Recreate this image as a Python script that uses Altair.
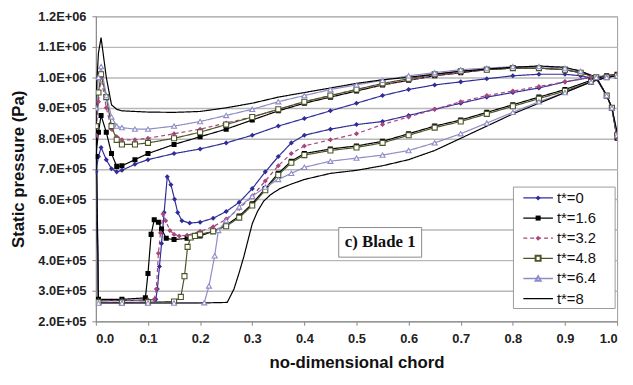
import altair as alt
import pandas as pd

SERIES = ["t*=0", "t*=1.6", "t*=3.2", "t*=4.8", "t*=6.4", "t*=8"]
COLORS = ["#302c98", "#000000", "#a8447e", "#4b5627", "#8e8cc6", "#000000"]
SHAPES = ["diamond", "square", "diamond", "square", "triangle-up", "circle"]
DASHES = [[1, 0], [1, 0], [4, 3], [1, 0], [1, 0], [1, 0]]
FILLED = ["t*=0", "t*=1.6", "t*=3.2"]
HOLLOW = ["t*=4.8", "t*=6.4"]

# pressure side (upper curves), values in 1e5 Pa
UP_X = [0, 0.005, 0.01, 0.02, 0.03, 0.04, 0.05, 0.075, 0.1, 0.15, 0.2, 0.25, 0.3, 0.35, 0.4,
        0.45, 0.5, 0.55, 0.6, 0.65, 0.7, 0.75, 0.8, 0.85, 0.9, 0.93, 0.96, 0.98, 0.99, 1.0]
UP_T0 = [6.9, 7.4, 7.7, 7.3, 7.0, 6.9, 6.95, 7.15, 7.3, 7.5, 7.65, 7.85, 8.1, 8.4, 8.65,
         8.9, 9.15, 9.4, 9.6, 9.75, 9.85, 9.95, 10.05, 10.1, 10.1, 10.05, 9.95, 9.4, 9.0, 8.0]
UP_T16 = [7.4, 8.2, 8.75, 8.2, 7.5, 7.08, 7.1, 7.3, 7.5, 7.8, 8.05, 8.3, 8.6, 8.9, 9.15,
          9.35, 9.55, 9.75, 9.9, 10.05, 10.15, 10.25, 10.3, 10.3, 10.25, 10.15, 10.0, 9.4, 9.0, 8.0]
UP_T32 = [8.1, 9.2, 10.0, 9.0, 8.3, 8.05, 7.95, 7.95, 8.0, 8.15, 8.3, 8.5, 8.7, 8.95, 9.2,
          9.4, 9.6, 9.75, 9.9, 10.05, 10.15, 10.25, 10.3, 10.3, 10.25, 10.15, 10.0, 9.4, 9.0, 8.0]
UP_T48 = [8.4, 9.5, 10.1, 9.35, 8.4, 7.95, 7.8, 7.8, 7.85, 8.0, 8.2, 8.45, 8.7, 8.95, 9.2,
          9.4, 9.6, 9.8, 9.95, 10.1, 10.2, 10.25, 10.3, 10.3, 10.25, 10.15, 10.0, 9.4, 9.0, 8.1]
UP_T64 = [9.0, 10.0, 10.35, 9.4, 8.7, 8.4, 8.35, 8.3, 8.3, 8.4, 8.55, 8.75, 8.95, 9.2, 9.4,
          9.6, 9.75, 9.9, 10.05, 10.15, 10.25, 10.3, 10.35, 10.35, 10.3, 10.2, 10.0, 9.4, 9.0, 8.1]
UP_T8 = [9.3, 10.8, 11.3, 10.0, 9.1, 8.95, 8.9, 8.88, 8.86, 8.85, 8.88, 9.0, 9.15, 9.35, 9.5,
         9.65, 9.8, 9.92, 10.0, 10.1, 10.2, 10.27, 10.33, 10.37, 10.33, 10.2, 10.0, 9.4, 9.0, 8.2]

# suction side (lower curves)
LO_X_T0 = [0, 0.005, 0.05, 0.1, 0.115, 0.118, 0.122, 0.126, 0.131, 0.137, 0.144, 0.151, 0.157,
           0.165, 0.18, 0.2, 0.225, 0.25, 0.275, 0.3, 0.325, 0.35, 0.375, 0.4, 0.45, 0.5, 0.55,
           0.6, 0.65, 0.7, 0.75, 0.8, 0.85, 0.9, 0.95, 0.98, 1.0]
LO_T0 = [6.9, 2.7, 2.68, 2.7, 2.72, 3.06, 3.8, 4.55, 5.57, 6.74, 6.48, 6.0, 5.57,
         5.3, 5.22, 5.25, 5.38, 5.6, 5.9, 6.35, 6.9, 7.4, 7.85, 8.1, 8.3, 8.45, 8.55,
         8.75, 8.95, 9.15, 9.35, 9.5, 9.65, 9.85, 10.0, 10.05, 10.1]
LO_X_T16 = [0, 0.005, 0.05, 0.095, 0.1, 0.106, 0.112, 0.12, 0.126, 0.135, 0.15, 0.175, 0.2,
            0.225, 0.25, 0.275, 0.3, 0.325, 0.35, 0.375, 0.4, 0.45, 0.5, 0.55, 0.6, 0.65, 0.7,
            0.75, 0.8, 0.85, 0.9, 0.95, 0.98, 1.0]
LO_T16 = [7.4, 2.72, 2.72, 2.77, 3.57, 4.85, 5.33, 5.25, 5.03, 4.72, 4.68, 4.72, 4.8,
          4.95, 5.15, 5.45, 5.85, 6.35, 6.85, 7.25, 7.5, 7.65, 7.75, 7.9, 8.15, 8.4, 8.6,
          8.85, 9.1, 9.35, 9.6, 9.9, 10.05, 10.1]
LO_X_T32 = [0, 0.005, 0.05, 0.1, 0.112, 0.116, 0.12, 0.124, 0.129, 0.134, 0.142, 0.15, 0.16,
            0.175, 0.2, 0.225, 0.25, 0.275, 0.3, 0.325, 0.35, 0.375, 0.4, 0.45, 0.5, 0.55, 0.6,
            0.65, 0.7, 0.75, 0.8, 0.85, 0.9, 0.95, 0.98, 1.0]
LO_T32 = [8.1, 2.68, 2.68, 2.7, 2.72, 3.06, 4.23, 4.9, 5.52, 5.3, 4.98, 4.85, 4.8,
          4.82, 4.95, 5.1, 5.35, 5.7, 6.1, 6.6, 7.1, 7.5, 7.75, 7.95, 8.15, 8.45, 8.7,
          8.95, 9.2, 9.4, 9.55, 9.7, 9.85, 10.0, 10.05, 10.1]
LO_X_T48 = [0, 0.005, 0.05, 0.1, 0.15, 0.163, 0.17, 0.176, 0.182, 0.19, 0.2, 0.225, 0.25,
            0.275, 0.3, 0.325, 0.35, 0.375, 0.4, 0.45, 0.5, 0.55, 0.6, 0.65, 0.7, 0.75, 0.8,
            0.85, 0.9, 0.95, 0.98, 1.0]
LO_T48 = [8.4, 2.63, 2.62, 2.63, 2.65, 2.8, 3.48, 4.44, 4.75, 4.8, 4.85, 4.95, 5.12,
          5.4, 5.8, 6.3, 6.8, 7.2, 7.45, 7.6, 7.7, 7.85, 8.1, 8.35, 8.55, 8.8, 9.05,
          9.3, 9.55, 9.85, 10.0, 10.05]
LO_X_T64 = [0, 0.005, 0.05, 0.1, 0.15, 0.208, 0.217, 0.228, 0.235, 0.25, 0.275, 0.3, 0.325,
            0.35, 0.375, 0.4, 0.45, 0.5, 0.55, 0.6, 0.65, 0.7, 0.75, 0.8, 0.85, 0.9, 0.95,
            0.98, 1.0]
LO_T64 = [9.0, 2.6, 2.6, 2.6, 2.6, 2.61, 3.16, 4.15, 4.98, 5.3, 5.75, 6.1, 6.4,
          6.65, 6.85, 7.05, 7.25, 7.35, 7.45, 7.6, 7.85, 8.15, 8.5, 8.85, 9.2, 9.5, 9.85,
          10.0, 10.05]
LO_X_T8 = [0, 0.005, 0.05, 0.1, 0.15, 0.2, 0.252, 0.265, 0.275, 0.284, 0.3, 0.31, 0.322,
           0.335, 0.353, 0.375, 0.4, 0.45, 0.5, 0.55, 0.6, 0.65, 0.7, 0.75, 0.8, 0.85, 0.9,
           0.95, 0.98, 1.0]
LO_T8 = [9.3, 2.6, 2.6, 2.6, 2.6, 2.6, 2.62, 3.06, 3.6, 4.13, 5.2, 5.6, 5.94,
         6.15, 6.35, 6.5, 6.65, 6.85, 6.95, 7.1, 7.3, 7.6, 8.0, 8.4, 8.8, 9.15, 9.5,
         9.85, 10.0, 10.05]

UPPERS = [UP_T0, UP_T16, UP_T32, UP_T48, UP_T64, UP_T8]
LOWERS = [(LO_X_T0, LO_T0), (LO_X_T16, LO_T16), (LO_X_T32, LO_T32),
          (LO_X_T48, LO_T48), (LO_X_T64, LO_T64), (LO_X_T8, LO_T8)]

rows = []
for s, up, (lx, lo) in zip(SERIES, UPPERS, LOWERS):
    for x, p in zip(UP_X, up):
        rows.append({"series": s, "side": "pressure", "x": x, "p": p * 1e5})
    for x, p in zip(lx, lo):
        rows.append({"series": s, "side": "suction", "x": x, "p": p * 1e5})
df = pd.DataFrame(rows)

W, H = 528, 309
FONT = "Liberation Sans"

color_scale = alt.Scale(domain=SERIES, range=COLORS)
shape_scale = alt.Scale(domain=SERIES, range=SHAPES)
dash_scale = alt.Scale(domain=SERIES, range=DASHES)

xenc = alt.X("x:Q", scale=alt.Scale(domain=[0, 1], nice=False),
             axis=alt.Axis(values=[i / 10 for i in range(11)], format=".1f", grid=False,
                           title="no-dimensional chord"))
yenc = alt.Y("p:Q", scale=alt.Scale(domain=[200000, 1200000], nice=False, zero=False),
             axis=alt.Axis(values=[200000 + 100000 * i for i in range(11)], grid=True,
                           labelExpr="datum.value >= 1000000 ? format(datum.value/1000000, '.1f') + 'E+06' : format(datum.value/100000, '.1f') + 'E+05'",
                           title="Static pressure (Pa)"))

lines = alt.Chart(df).mark_line(strokeWidth=1.2, clip=True).encode(
    x=xenc, y=yenc,
    color=alt.Color("series:N", scale=color_scale, legend=None),
    strokeDash=alt.StrokeDash("series:N", scale=dash_scale, legend=None),
    detail="side:N",
)

pts_filled = alt.Chart(df).transform_filter(
    alt.FieldOneOfPredicate(field="series", oneOf=FILLED)
).mark_point(filled=True, size=26, opacity=1, clip=True).encode(
    x=xenc, y=yenc,
    color=alt.Color("series:N", scale=color_scale, legend=None),
    shape=alt.Shape("series:N", scale=shape_scale, legend=None),
)
pts_hollow = alt.Chart(df).transform_filter(
    alt.FieldOneOfPredicate(field="series", oneOf=HOLLOW)
).mark_point(filled=False, fill="white", fillOpacity=1, size=26, opacity=1, strokeWidth=1.1,
             clip=True).encode(
    x=xenc, y=yenc,
    color=alt.Color("series:N", scale=color_scale, legend=None),
    shape=alt.Shape("series:N", scale=shape_scale, legend=None),
)

data_layer = alt.layer(lines, pts_filled, pts_hollow)

# legend (manual)
leg = pd.DataFrame({"series": SERIES, "row": list(range(6))})
row_scale = alt.Scale(domain=[0, 5], range=[184, 286])
leg_y = alt.Y("row:Q", scale=row_scale, axis=None)
one = pd.DataFrame({"a": [0]})
leg_box = alt.Chart(one).mark_rect(fill="white", stroke="#9a9a9a", strokeWidth=1).encode(
    x=alt.value(423), x2=alt.value(526), y=alt.value(173), y2=alt.value(296))
leg_lines = alt.Chart(leg).mark_rule(strokeWidth=1.3).encode(
    x=alt.value(433), x2=alt.value(463), y=leg_y,
    color=alt.Color("series:N", scale=color_scale, legend=None),
    strokeDash=alt.StrokeDash("series:N", scale=dash_scale, legend=None),
)
leg_pf = alt.Chart(leg).transform_filter(
    alt.FieldOneOfPredicate(field="series", oneOf=FILLED)
).mark_point(filled=True, size=26, opacity=1).encode(
    x=alt.value(448), y=leg_y,
    color=alt.Color("series:N", scale=color_scale, legend=None),
    shape=alt.Shape("series:N", scale=shape_scale, legend=None),
)
leg_ph = alt.Chart(leg).transform_filter(
    alt.FieldOneOfPredicate(field="series", oneOf=HOLLOW)
).mark_point(filled=False, fill="white", fillOpacity=1, size=26, opacity=1).encode(
    x=alt.value(448), y=leg_y,
    color=alt.Color("series:N", scale=color_scale, legend=None),
    shape=alt.Shape("series:N", scale=shape_scale, legend=None),
)
leg_text = alt.Chart(leg).mark_text(align="left", baseline="middle", font=FONT, fontSize=15,
                                    color="#111111").encode(
    x=alt.value(467), y=leg_y, text="series:N")
legend_layer = alt.layer(leg_box, leg_lines, leg_pf, leg_ph, leg_text)

# annotation
ann_box = alt.Chart(one).mark_rect(fill="white", stroke="#8a8a8a", strokeWidth=1).encode(
    x=alt.value(246), x2=alt.value(330), y=alt.value(214), y2=alt.value(244))
ann_text = alt.Chart(pd.DataFrame({"t": ["c) Blade 1"]})).mark_text(
    font="Liberation Serif", fontWeight="bold", fontSize=17, color="#111111",
    align="center", baseline="middle").encode(x=alt.value(288), y=alt.value(229), text="t:N")

chart = alt.layer(
    data_layer, ann_box, ann_text, legend_layer
).resolve_scale(y="independent").properties(
    width=W, height=H,
    autosize=alt.AutoSizeParams(type="none"),
    padding={"left": 89, "top": 6, "right": 8, "bottom": 54},
).configure_view(
    stroke="#9a9a9a", strokeWidth=1
).configure_axis(
    labelFont=FONT, titleFont=FONT, labelFontWeight="bold", titleFontWeight="bold",
    labelFontSize=13, titleFontSize=17, labelColor="#222222", titleColor="#111111",
    domainColor="#888888", tickColor="#888888", tickSize=4,
    gridColor="#b8b8b8", gridWidth=1.5,
).configure_axisX(
    labelPadding=7, titlePadding=10,
).configure_axisY(
    labelPadding=6, titlePadding=11,
)

chart.save("out.html", embed_options={"renderer": "svg", "actions": False})
